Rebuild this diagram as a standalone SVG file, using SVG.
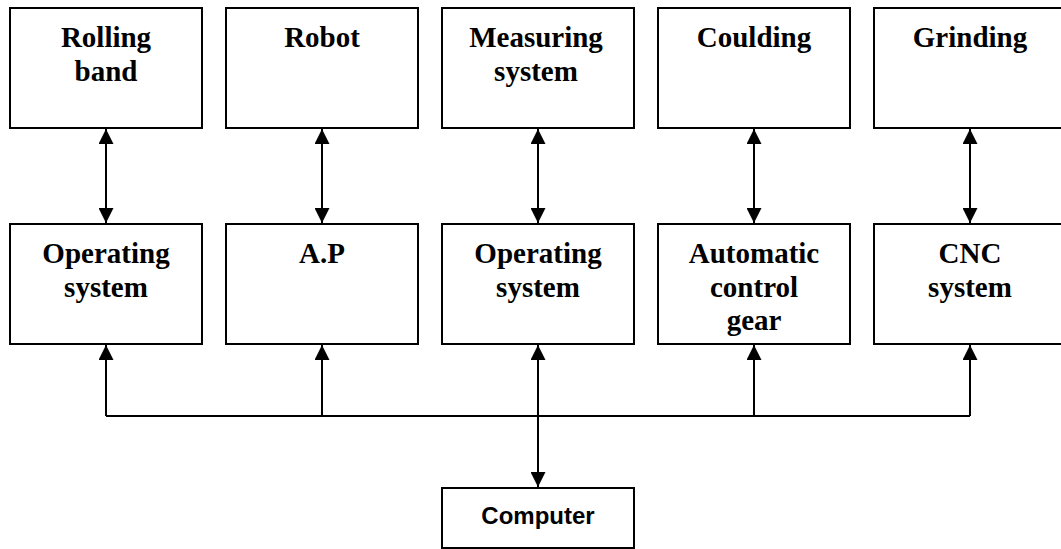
<svg xmlns="http://www.w3.org/2000/svg" width="1061" height="549" viewBox="0 0 1061 549">
<defs>
<style>
.box{fill:#fff;stroke:#000;stroke-width:2}
.t{font-family:"Liberation Serif","Times New Roman",serif;font-weight:bold;font-size:29px;text-anchor:middle;fill:#000}
.s{font-family:"Liberation Sans",Arial,sans-serif;font-weight:bold;font-size:24px;text-anchor:middle;fill:#000}
.c{stroke:#000;stroke-width:2;fill:none}
</style>
<marker id="ah" markerUnits="userSpaceOnUse" markerWidth="15" markerHeight="15" refX="15" refY="7.5" orient="auto-start-reverse">
<path d="M0,0 L15,7.5 L0,15 z" fill="#000"/>
</marker>
</defs>
<rect width="1061" height="549" fill="#fff"/>
<g id="n-rolling"><rect class="box" x="10" y="8" width="192" height="120"/><text class="t" x="106" y="47">Rolling</text><text class="t" x="106" y="81">band</text></g>
<g id="n-robot"><rect class="box" x="226" y="8" width="192" height="120"/><text class="t" x="322" y="47">Robot</text></g>
<g id="n-measuring"><rect class="box" x="442" y="8" width="192" height="120"/><text class="t" x="536" y="47">Measuring</text><text class="t" x="536" y="81">system</text></g>
<g id="n-coulding"><rect class="box" x="658" y="8" width="192" height="120"/><text class="t" x="754" y="47">Coulding</text></g>
<g id="n-grinding"><rect class="box" x="874" y="8" width="192" height="120"/><text class="t" x="970" y="47">Grinding</text></g>
<g id="n-os1"><rect class="box" x="10" y="224" width="192" height="120"/><text class="t" x="106" y="263">Operating</text><text class="t" x="106" y="297">system</text></g>
<g id="n-ap"><rect class="box" x="226" y="224" width="192" height="120"/><text class="t" x="322" y="263">A.P</text></g>
<g id="n-os2"><rect class="box" x="442" y="224" width="192" height="120"/><text class="t" x="538" y="263">Operating</text><text class="t" x="538" y="297">system</text></g>
<g id="n-acg"><rect class="box" x="658" y="224" width="192" height="120"/><text class="t" x="754" y="263">Automatic</text><text class="t" x="754" y="297">control</text><text class="t" x="754" y="330">gear</text></g>
<g id="n-cnc"><rect class="box" x="874" y="224" width="192" height="120"/><text class="t" x="970" y="263">CNC</text><text class="t" x="970" y="297">system</text></g>
<g id="n-computer"><rect class="box" x="442" y="488" width="192" height="60"/><text class="s" x="538" y="524">Computer</text></g>
<g id="connectors">
<line class="c" x1="106" y1="129" x2="106" y2="223" marker-start="url(#ah)" marker-end="url(#ah)"/>
<line class="c" x1="322" y1="129" x2="322" y2="223" marker-start="url(#ah)" marker-end="url(#ah)"/>
<line class="c" x1="538" y1="129" x2="538" y2="223" marker-start="url(#ah)" marker-end="url(#ah)"/>
<line class="c" x1="754" y1="129" x2="754" y2="223" marker-start="url(#ah)" marker-end="url(#ah)"/>
<line class="c" x1="970" y1="129" x2="970" y2="223" marker-start="url(#ah)" marker-end="url(#ah)"/>
<polyline class="c" points="106,416 970,416"/>
<line class="c" x1="106" y1="416" x2="106" y2="345" marker-end="url(#ah)"/>
<line class="c" x1="322" y1="416" x2="322" y2="345" marker-end="url(#ah)"/>
<line class="c" x1="754" y1="416" x2="754" y2="345" marker-end="url(#ah)"/>
<line class="c" x1="970" y1="416" x2="970" y2="345" marker-end="url(#ah)"/>
<line class="c" x1="538" y1="345" x2="538" y2="487" marker-start="url(#ah)" marker-end="url(#ah)"/>
</g>
</svg>
